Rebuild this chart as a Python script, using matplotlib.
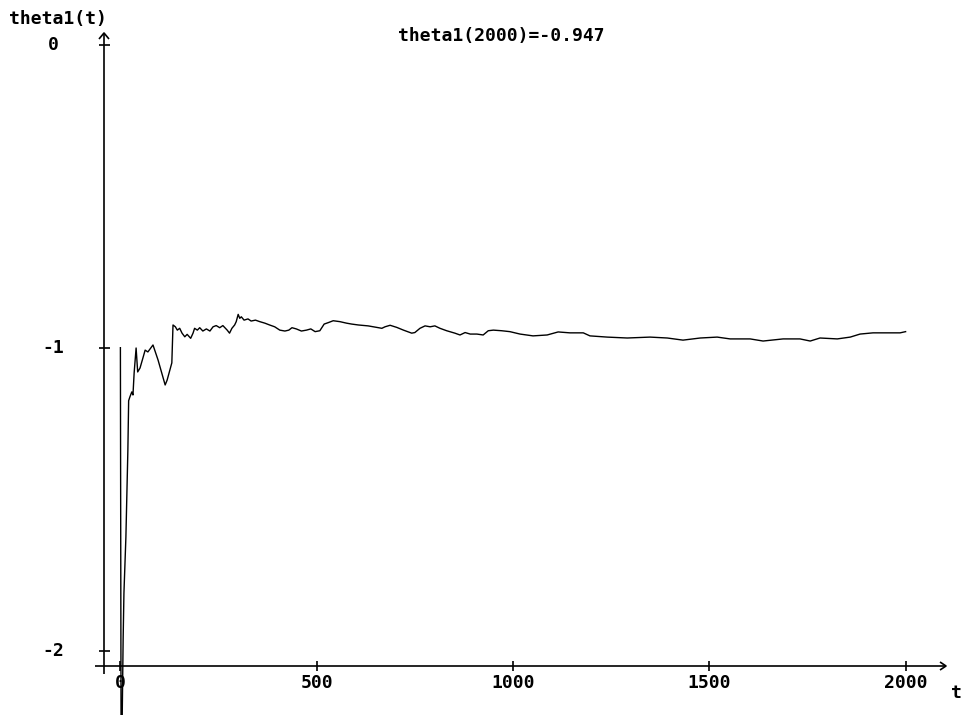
import matplotlib
matplotlib.use("Agg")
import matplotlib.pyplot as plt

# ---------------------------------------------------------------------------
# Data
# ---------------------------------------------------------------------------
t = [0, 2, 7, 9, 14, 19, 21, 24, 29, 32, 35, 40, 44, 50, 58, 63, 70, 83, 96,
     114, 119, 131, 134, 140, 145, 151, 157, 164, 170, 179, 185, 189, 196,
     202, 210, 219, 228, 236, 244, 253, 261, 272, 278, 284, 291, 295, 300,
     304, 308, 315, 325, 333, 344, 355, 368, 380, 393, 406, 419, 429, 437,
     448, 461, 474, 485, 496, 508, 519, 530, 542, 559, 576, 589, 606, 631,
     653, 666, 674, 687, 704, 721, 742, 750, 763, 776, 789, 801, 814, 831,
     852, 865, 878, 891, 908, 924, 937, 950, 971, 992, 1018, 1051, 1087,
     1115, 1145, 1179, 1196, 1240, 1291, 1349, 1393, 1433, 1477, 1520, 1553,
     1604, 1637, 1688, 1731, 1757, 1782, 1826, 1859, 1884, 1917, 1953, 1986,
     2000]
theta1 = [-1.0, -2.5, -1.96, -1.81, -1.625, -1.34, -1.175, -1.163, -1.146,
          -1.156, -1.083, -1.001, -1.080, -1.067, -1.031, -1.008, -1.014,
          -0.991, -1.041, -1.123, -1.107, -1.050, -0.925, -0.931, -0.942,
          -0.936, -0.952, -0.964, -0.956, -0.969, -0.952, -0.936, -0.942,
          -0.934, -0.945, -0.938, -0.945, -0.931, -0.927, -0.934, -0.927,
          -0.942, -0.952, -0.936, -0.925, -0.914, -0.890, -0.903, -0.898,
          -0.909, -0.905, -0.912, -0.909, -0.914, -0.919, -0.925, -0.931,
          -0.942, -0.945, -0.942, -0.934, -0.938, -0.945, -0.942, -0.938,
          -0.947, -0.944, -0.922, -0.917, -0.911, -0.914, -0.919, -0.922,
          -0.925, -0.928, -0.933, -0.936, -0.931, -0.926, -0.933, -0.942,
          -0.952, -0.950, -0.936, -0.928, -0.931, -0.928, -0.936, -0.944,
          -0.952, -0.958, -0.950, -0.955, -0.955, -0.958, -0.944, -0.942,
          -0.944, -0.947, -0.955, -0.961, -0.958, -0.948, -0.951, -0.951,
          -0.961, -0.965, -0.968, -0.965, -0.968, -0.975, -0.968, -0.965,
          -0.971, -0.971, -0.978, -0.971, -0.971, -0.978, -0.968, -0.971,
          -0.965, -0.955, -0.951, -0.951, -0.951, -0.947]

x_ticks = [0, 500, 1000, 1500, 2000]
y_ticks = [0, -1, -2]
y_labels = ["0", "-1", "-2"]
title = "theta1(2000)=-0.947"

# ---------------------------------------------------------------------------
# Plot (axes fill the whole figure, old-style hand drawn axes)
# ---------------------------------------------------------------------------
W, H = 963, 715
fig = plt.figure(figsize=(W / 100, H / 100), dpi=100)
ax = fig.add_axes([0, 0, 1, 1])
ax.set_axis_off()

# pixel mapping of the reference: x=0 at 120.4 px, 0.3926 px per unit
# y=0 at 44.7 px from top, 303 px per unit
px_per_t = 0.3926
px_per_y = 303.0
x0_px, y0_px = 120.4, 44.7
ax.set_xlim(-x0_px / px_per_t, (W - x0_px) / px_per_t)
ax.set_ylim(-(H - y0_px) / px_per_y, y0_px / px_per_y)

dx = 1 / px_per_t   # one pixel in data units
dy = 1 / px_per_y

font = dict(family="DejaVu Sans Mono", fontweight="bold", fontsize=13,
            color="black")
axis_kw = dict(color="black", lw=1.2, solid_capstyle="butt")

x_axis_y = -(666 - y0_px) * dy
y_axis_x = (104 - x0_px) * dx

# x axis with arrow head
x_end = (946 - x0_px) * dx
ax.plot([(95 - x0_px) * dx, x_end], [x_axis_y, x_axis_y], **axis_kw)
ax.plot([x_end - 6 * dx, x_end, x_end - 6 * dx],
        [x_axis_y + 4 * dy, x_axis_y, x_axis_y - 4 * dy], **axis_kw)

# y axis with arrow head
y_top = (y0_px - 33) * dy
ax.plot([y_axis_x, y_axis_x], [-(674 - y0_px) * dy, y_top], **axis_kw)
ax.plot([y_axis_x - 5 * dx, y_axis_x, y_axis_x + 5 * dx],
        [y_top - 6 * dy, y_top, y_top - 6 * dy], **axis_kw)

# ticks and tick labels
for xv in x_ticks:
    ax.plot([xv, xv], [x_axis_y - 5 * dy, x_axis_y + 5 * dy], **axis_kw)
    ax.text(xv, x_axis_y - 17 * dy, str(xv), ha="center", va="center", **font)
for yv, lab in zip(y_ticks, y_labels):
    ax.plot([y_axis_x - 5 * dx, y_axis_x + 6 * dx], [yv, yv], **axis_kw)
    ax.text(y_axis_x - 51 * dx, yv, lab, ha="center", va="center", **font)

# axis names and title
ax.text(9 * dx - x0_px * dx, (y0_px - 19) * dy, "theta1(t)",
        ha="left", va="center", **font)
ax.text((956 - x0_px) * dx, -(693 - y0_px) * dy, "t",
        ha="center", va="center", **font)
ax.text((501 - x0_px) * dx, (y0_px - 36) * dy, title,
        ha="center", va="center", **font)

# the estimate trajectory
ax.plot(t, theta1, color="black", lw=1.0)

fig.savefig("out.png", dpi=100, facecolor="white")
plt.close(fig)
